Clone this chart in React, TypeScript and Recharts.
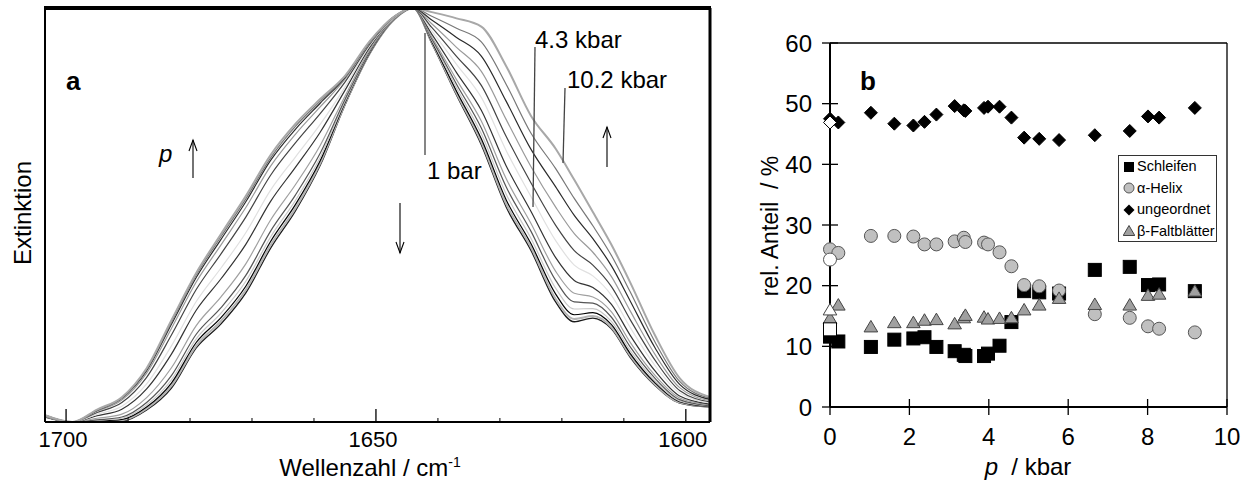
import React from 'react';
import {
  LineChart,
  Line,
  XAxis,
  YAxis,
  ReferenceLine,
  ScatterChart,
  Scatter,
  Legend,
} from 'recharts';

const FONT = '"Liberation Sans", Arial, sans-serif';

// panel a: normalised amide I' spectra, 1 bar ... 10.2 kbar
const WAVENUMBERS = [1704, 1699, 1695, 1691, 1687, 1683, 1679, 1675, 1671, 1667, 1663, 1659, 1655, 1651, 1647, 1644, 1641, 1637, 1633, 1629, 1625, 1621, 1618, 1615, 1612, 1609, 1605, 1601, 1596];
const WAVE_TICKS = [1700, 1690, 1680, 1670, 1660, 1650, 1640, 1630, 1620, 1610, 1600];

const S01 = [0.015, 0, 0, 0.002, 0.029, 0.082, 0.179, 0.237, 0.312, 0.42, 0.51, 0.62, 0.766, 0.89, 0.973, 1, 0.915, 0.79, 0.67, 0.52, 0.415, 0.29, 0.242, 0.251, 0.225, 0.157, 0.089, 0.046, 0.036];
const S02 = [0.015, 0, 0.001, 0.004, 0.032, 0.087, 0.184, 0.244, 0.319, 0.427, 0.516, 0.625, 0.768, 0.891, 0.973, 1, 0.917, 0.794, 0.676, 0.527, 0.422, 0.297, 0.249, 0.256, 0.229, 0.161, 0.091, 0.047, 0.037];
const S03 = [0.015, 0, 0.002, 0.006, 0.036, 0.094, 0.192, 0.252, 0.328, 0.436, 0.525, 0.631, 0.771, 0.892, 0.974, 1, 0.919, 0.799, 0.684, 0.537, 0.431, 0.309, 0.259, 0.264, 0.235, 0.166, 0.095, 0.049, 0.037];
const S04 = [0.016, 0, 0.004, 0.009, 0.041, 0.102, 0.201, 0.263, 0.34, 0.447, 0.535, 0.639, 0.774, 0.894, 0.974, 1, 0.922, 0.807, 0.696, 0.551, 0.444, 0.323, 0.273, 0.274, 0.243, 0.173, 0.1, 0.051, 0.038];
const S05 = [0.016, 0, 0.005, 0.012, 0.047, 0.112, 0.212, 0.276, 0.354, 0.461, 0.548, 0.649, 0.779, 0.895, 0.974, 1, 0.926, 0.816, 0.71, 0.568, 0.461, 0.342, 0.29, 0.287, 0.253, 0.182, 0.106, 0.054, 0.039];
const S06 = [0.017, 0, 0.009, 0.019, 0.059, 0.131, 0.233, 0.302, 0.382, 0.488, 0.573, 0.668, 0.787, 0.899, 0.975, 1, 0.93, 0.827, 0.727, 0.588, 0.48, 0.364, 0.311, 0.302, 0.266, 0.193, 0.113, 0.058, 0.041];
const S07 = [0.018, 0, 0.015, 0.031, 0.08, 0.164, 0.27, 0.346, 0.429, 0.533, 0.615, 0.7, 0.801, 0.905, 0.977, 1, 0.937, 0.844, 0.753, 0.619, 0.509, 0.397, 0.342, 0.325, 0.284, 0.21, 0.124, 0.063, 0.043];
const S08 = [0.018, 0, 0.019, 0.038, 0.092, 0.184, 0.291, 0.372, 0.457, 0.56, 0.64, 0.719, 0.809, 0.909, 0.977, 1, 0.945, 0.864, 0.784, 0.656, 0.545, 0.438, 0.379, 0.353, 0.306, 0.229, 0.137, 0.07, 0.046];
const S09 = [0.019, 0, 0.023, 0.047, 0.108, 0.21, 0.32, 0.406, 0.495, 0.596, 0.674, 0.745, 0.821, 0.913, 0.979, 1, 0.953, 0.883, 0.813, 0.69, 0.578, 0.475, 0.414, 0.379, 0.327, 0.248, 0.15, 0.076, 0.048];
const S10 = [0.019, 0, 0.026, 0.053, 0.118, 0.226, 0.338, 0.428, 0.518, 0.618, 0.695, 0.761, 0.828, 0.916, 0.979, 1, 0.962, 0.905, 0.847, 0.731, 0.617, 0.519, 0.455, 0.41, 0.351, 0.269, 0.164, 0.083, 0.051];
const S11 = [0.02, 0, 0.028, 0.057, 0.124, 0.236, 0.349, 0.441, 0.532, 0.632, 0.707, 0.77, 0.832, 0.918, 0.98, 1, 0.971, 0.929, 0.884, 0.775, 0.659, 0.568, 0.499, 0.443, 0.377, 0.293, 0.18, 0.091, 0.054];
const S12 = [0.02, 0, 0.029, 0.058, 0.127, 0.241, 0.355, 0.448, 0.539, 0.638, 0.714, 0.775, 0.834, 0.919, 0.98, 1, 0.98, 0.951, 0.918, 0.816, 0.698, 0.612, 0.54, 0.474, 0.402, 0.315, 0.194, 0.098, 0.057];
const S13 = [0.02, 0, 0.03, 0.06, 0.13, 0.246, 0.36, 0.454, 0.546, 0.645, 0.72, 0.78, 0.836, 0.92, 0.98, 1, 0.99, 0.975, 0.955, 0.86, 0.74, 0.66, 0.585, 0.507, 0.428, 0.338, 0.21, 0.106, 0.06];

const SPECTRA = [S01, S02, S03, S04, S05, S06, S07, S08, S09, S10, S11, S12, S13];
const SPECTRA_COLORS = ['#1a1a1a', '#b4b4b4', '#000000', '#c8c8c8', '#555555', '#a0a0a0', '#333333', '#e0e0e0', '#444444', '#9a9a9a', '#2a2a2a', '#777777', '#a8a8a8'];
const SPECTRA_WIDTHS = [1.4, 2, 1.2, 1.2, 1.2, 1.2, 1.2, 1.2, 1.2, 1.2, 1.2, 1.2, 2];

// panel b: secondary structure vs pressure
const SERIES_NAMES = ['Schleifen', 'α-Helix', 'ungeordnet', 'β-Faltblätter'];
const P_KBAR = [0, 0.21, 1.03, 1.62, 2.1, 2.38, 2.68, 3.14, 3.37, 3.41, 3.88, 3.98, 4.27, 4.57, 4.89, 5.27, 5.77, 6.67, 7.55, 8.01, 8.29, 9.19];
const SCHLEIFEN = [11.6, 10.8, 9.9, 11.1, 11.3, 11.5, 9.9, 9.2, 8.6, 8.4, 8.4, 8.8, 10.1, 14.0, 19.1, 18.9, 18.7, 22.6, 23.1, 20.1, 20.2, 19.1];
const HELIX = [26.0, 25.4, 28.2, 28.2, 28.1, 26.8, 26.8, 27.3, 27.9, 27.2, 27.1, 26.8, 25.5, 23.2, 20.1, 19.9, 19.2, 15.3, 14.7, 13.3, 12.9, 12.3];
const UNGEORDNET = [47.5, 46.9, 48.5, 46.7, 46.4, 47.0, 48.2, 49.6, 48.9, 48.8, 49.3, 49.5, 49.5, 47.7, 44.4, 44.2, 44.0, 44.8, 45.5, 47.9, 47.7, 49.3];
const FALTBLAETTER = [14.6, 16.8, 13.2, 13.9, 13.9, 14.3, 14.4, 13.7, 14.7, 15.1, 14.8, 14.5, 14.6, 14.7, 16.0, 16.8, 17.9, 16.9, 16.8, 18.4, 18.6, 19.1];

// open symbols at p = 0 (after decompression)
const P_OPEN = [0];
const SCHLEIFEN_OPEN = [12.8];
const HELIX_OPEN = [24.3];
const UNGEORDNET_OPEN = [46.9];
const FALTBLAETTER_OPEN = [16.0];

const P_TICKS = [0, 2, 4, 6, 8, 10];
const ANTEIL_TICKS = [0, 10, 20, 30, 40, 50, 60];

const spectraRows = WAVENUMBERS.map((w, i) => {
  const row: Record<string, number> = { w };
  SPECTRA.forEach((s, k) => {
    row[`s${k}`] = s[i];
  });
  return row;
});

const toPoints = (xs: number[], ys: number[]) => xs.map((p, i) => ({ p, v: ys[i] }));

const squareShape = (fill: string) => (props: any) => (
  <rect x={props.cx - 6.5} y={props.cy - 6.5} width={13} height={13} fill={fill} stroke="#000" strokeWidth={1} />
);
const circleShape = (fill: string) => (props: any) => (
  <circle cx={props.cx} cy={props.cy} r={6.5} fill={fill} stroke="#555" strokeWidth={1} />
);
const diamondShape = (fill: string) => (props: any) => (
  <path
    d={`M${props.cx},${props.cy - 6.5}L${props.cx + 6.5},${props.cy}L${props.cx},${props.cy + 6.5}L${props.cx - 6.5},${props.cy}Z`}
    fill={fill}
    stroke="#000"
    strokeWidth={1}
  />
);
const triangleShape = (fill: string) => (props: any) => (
  <path
    d={`M${props.cx},${props.cy - 6.5}L${props.cx + 6.8},${props.cy + 5}L${props.cx - 6.8},${props.cy + 5}Z`}
    fill={fill}
    stroke="#444"
    strokeWidth={1}
  />
);

function legendMarker(name: string) {
  if (name === 'Schleifen') return <rect x={1} y={1} width={10} height={10} fill="#000" />;
  if (name === 'α-Helix') return <circle cx={6} cy={6} r={5} fill="#c0c0c0" stroke="#555" />;
  if (name === 'ungeordnet') return <path d="M6,0.5L11.5,6L6,11.5L0.5,6Z" fill="#000" />;
  return <path d="M6,0.5L11.8,10.5L0.2,10.5Z" fill="#a0a0a0" stroke="#444" />;
}

function renderLegend() {
  return (
    <div
      style={{
        width: 99,
        height: 87,
        boxSizing: 'border-box',
        border: '1px solid #333',
        background: '#fff',
        fontFamily: FONT,
        fontSize: 14.5,
        color: '#000',
      }}
    >
      {SERIES_NAMES.map((name) => (
        <div key={name} style={{ height: 21.5, lineHeight: '21.5px', position: 'relative', whiteSpace: 'nowrap' }}>
          <svg width={12} height={12} style={{ position: 'absolute', left: 4, top: 4.5 }}>
            {legendMarker(name)}
          </svg>
          <span style={{ position: 'absolute', left: 18 }}>{name}</span>
        </div>
      ))}
    </div>
  );
}

const waveTick = (props: any) => {
  const { x, y, payload } = props;
  const major = payload.value % 50 === 0;
  return (
    <g>
      <line x1={x} x2={x} y1={y} y2={y - (major ? 13 : 4)} stroke="#000" strokeWidth={major ? 1.3 : 1} />
      {major && (
        <text x={x - 3} y={y + 25} textAnchor="middle" fontSize={22} fontFamily={FONT} fill="#000">
          {payload.value}
        </text>
      )}
    </g>
  );
};

const pTick = (props: any) => {
  const { x, y, payload } = props;
  return (
    <g>
      <line x1={x} x2={x} y1={y - 8} y2={y + 8} stroke="#000" strokeWidth={1.3} />
      <text x={x} y={y + 38} textAnchor="middle" fontSize={24} fontFamily={FONT} fill="#000">
        {payload.value}
      </text>
    </g>
  );
};

const anteilTick = (props: any) => {
  const { x, y, payload } = props;
  return (
    <g>
      <line x1={x - 8} x2={x + 8} y1={y} y2={y} stroke="#000" strokeWidth={1.3} />
      <text x={x - 18} y={y + 8.5} textAnchor="end" fontSize={24} fontFamily={FONT} fill="#000">
        {payload.value}
      </text>
    </g>
  );
};

function Arrow({ x, top, bottom, up }: { x: number; top: number; bottom: number; up: boolean }) {
  const tip = up ? top : bottom;
  const back = up ? top + 11 : bottom - 11;
  return (
    <g stroke="#000" strokeWidth={1.1} fill="none">
      <line x1={x} x2={x} y1={top} y2={bottom} />
      <polyline points={`${x - 4},${back} ${x},${tip} ${x + 4},${back}`} />
    </g>
  );
}

export default function App() {
  return (
    <div style={{ position: 'absolute', left: 0, top: 0, width: 1249, height: 483, background: '#fff', fontFamily: FONT }}>
      <div style={{ position: 'absolute', left: 0, top: 0 }}>
        <LineChart width={740} height={483} data={spectraRows} margin={{ top: 8, right: 30, bottom: 0, left: 0 }}>
          <XAxis
            dataKey="w"
            type="number"
            domain={[1596.1, 1703.4]}
            reversed
            allowDataOverflow
            ticks={WAVE_TICKS}
            interval={0}
            tick={waveTick}
            tickLine={false}
            tickSize={0}
            tickMargin={0}
            height={61}
            axisLine={{ stroke: '#000', strokeWidth: 2.2 }}
          />
          <YAxis
            type="number"
            domain={[0, 1]}
            allowDataOverflow
            width={45}
            tick={false}
            tickLine={false}
            axisLine={{ stroke: '#000', strokeWidth: 2 }}
          />
          {SPECTRA.map((_, k) => (
            <Line
              key={k}
              type="monotone"
              dataKey={`s${k}`}
              stroke={SPECTRA_COLORS[k]}
              strokeWidth={SPECTRA_WIDTHS[k]}
              dot={false}
              activeDot={false}
              isAnimationActive={false}
            />
          ))}
          <ReferenceLine y={1} stroke="#000" strokeWidth={4} ifOverflow="visible" />
          <ReferenceLine x={1596.1} stroke="#000" strokeWidth={3} ifOverflow="visible" />
        </LineChart>
      </div>

      <div style={{ position: 'absolute', left: 740, top: 0 }}>
        <ScatterChart width={509} height={483} margin={{ top: 43, right: 22, bottom: 0, left: 0 }}>
          <XAxis
            dataKey="p"
            type="number"
            domain={[0, 10]}
            ticks={P_TICKS}
            interval={0}
            tick={pTick}
            tickLine={false}
            tickSize={0}
            tickMargin={0}
            height={76}
            axisLine={{ stroke: '#000', strokeWidth: 2 }}
          />
          <YAxis
            dataKey="v"
            type="number"
            domain={[0, 60]}
            ticks={ANTEIL_TICKS}
            interval={0}
            tick={anteilTick}
            tickLine={false}
            tickSize={0}
            tickMargin={0}
            width={90}
            axisLine={{ stroke: '#000', strokeWidth: 2 }}
          />
          <ReferenceLine y={60} stroke="#000" strokeWidth={1.3} ifOverflow="visible" />
          <ReferenceLine x={10} stroke="#000" strokeWidth={1.3} ifOverflow="visible" />
          <Legend
            layout="vertical"
            align="center"
            verticalAlign="middle"
            content={renderLegend}
            wrapperStyle={{ left: 378, top: 155, width: 99, height: 87 }}
          />
          <Scatter name="Schleifen" data={toPoints(P_KBAR, SCHLEIFEN)} shape={squareShape('#000')} fill="#000" isAnimationActive={false} />
          <Scatter name="α-Helix" data={toPoints(P_KBAR, HELIX)} shape={circleShape('#c0c0c0')} fill="#c0c0c0" isAnimationActive={false} />
          <Scatter name="ungeordnet" data={toPoints(P_KBAR, UNGEORDNET)} shape={diamondShape('#000')} fill="#000" isAnimationActive={false} />
          <Scatter name="β-Faltblätter" data={toPoints(P_KBAR, FALTBLAETTER)} shape={triangleShape('#a0a0a0')} fill="#a0a0a0" isAnimationActive={false} />
          <Scatter name="Schleifen (0)" legendType="none" data={toPoints(P_OPEN, SCHLEIFEN_OPEN)} shape={squareShape('#fff')} isAnimationActive={false} />
          <Scatter name="α-Helix (0)" legendType="none" data={toPoints(P_OPEN, HELIX_OPEN)} shape={circleShape('#fff')} isAnimationActive={false} />
          <Scatter name="ungeordnet (0)" legendType="none" data={toPoints(P_OPEN, UNGEORDNET_OPEN)} shape={diamondShape('#fff')} isAnimationActive={false} />
          <Scatter name="β-Faltblätter (0)" legendType="none" data={toPoints(P_OPEN, FALTBLAETTER_OPEN)} shape={triangleShape('#fff')} isAnimationActive={false} />
        </ScatterChart>
      </div>

      {/* top frame edge of panel a */}
      <div style={{ position: 'absolute', left: 44, top: 6, width: 667, height: 4, background: '#000' }} />

      {/* annotations and axis titles */}
      <svg width={1249} height={483} style={{ position: 'absolute', left: 0, top: 0, pointerEvents: 'none' }} fontFamily={FONT}>
        <text x={66} y={90} fontSize={26} fontWeight="bold">a</text>
        <text x={159} y={162} fontSize={24} fontStyle="italic">p</text>
        <Arrow x={193} top={140} bottom={178} up />
        <Arrow x={400} top={203} bottom={253} up={false} />
        <Arrow x={607} top={127} bottom={167} up />
        <line x1={425} x2={425} y1={33} y2={155} stroke="#444" strokeWidth={1.3} />
        <text x={427} y={179} fontSize={24}>1 bar</text>
        <line x1={535} x2={533} y1={47} y2={207} stroke="#444" strokeWidth={1.3} />
        <text x={535} y={48} fontSize={24}>4.3 kbar</text>
        <line x1={565} x2={563} y1={88} y2={163} stroke="#444" strokeWidth={1.3} />
        <text x={567} y={88} fontSize={24}>10.2 kbar</text>
        <text transform="translate(31,213) rotate(-90)" textAnchor="middle" fontSize={24}>Extinktion</text>
        <text x={370} y={476} textAnchor="middle" fontSize={24}>
          Wellenzahl / cm<tspan dy={-9} fontSize={14}>-1</tspan>
        </text>

        <text x={860} y={90} fontSize={26} fontWeight="bold">b</text>
        <text transform="translate(778,226) rotate(-90)" textAnchor="middle" fontSize={23} xmlSpace="preserve">rel. Anteil  / %</text>
        <text x={1028} y={475} textAnchor="middle" fontSize={24} xmlSpace="preserve">
          <tspan fontStyle="italic">p</tspan>  / kbar
        </text>
      </svg>
    </div>
  );
}
